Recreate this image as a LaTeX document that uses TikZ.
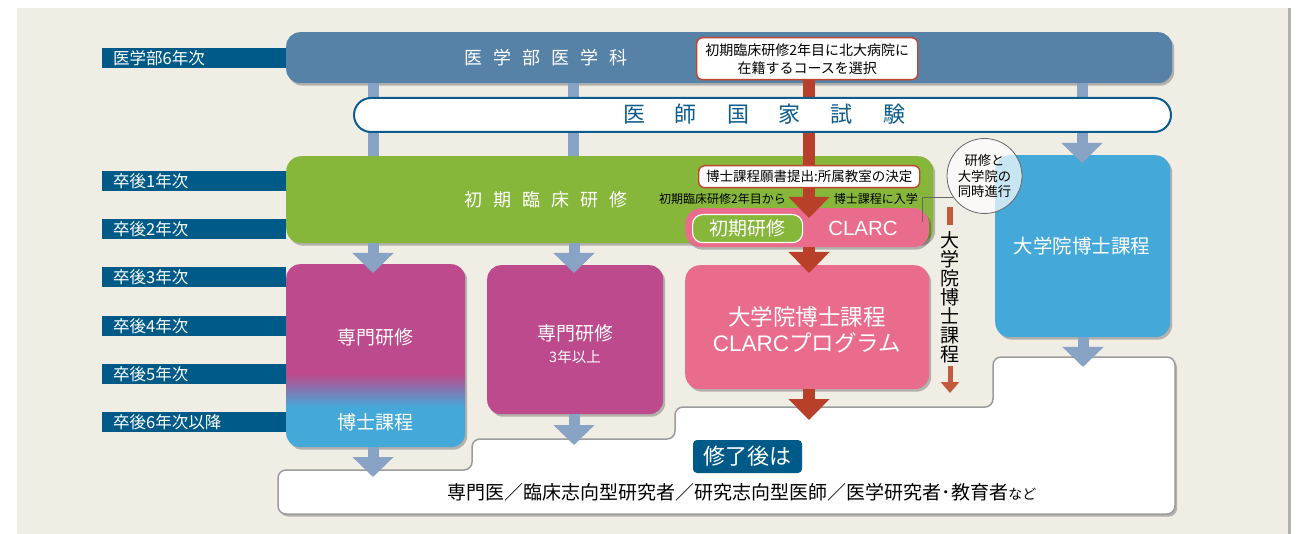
\documentclass[tikz,border=0pt]{standalone}
\usepackage{fontspec}
\setmainfont{Noto Sans CJK JP}
\newfontfamily\latf{Liberation Sans}
\usetikzlibrary{arrows.meta,shadows}
\definecolor{paperC}{HTML}{F0EDE5}
\definecolor{barC}{HTML}{005A87}
\definecolor{topC}{HTML}{5782A8}
\definecolor{examC}{HTML}{0B5B8C}
\definecolor{stemC}{HTML}{88A3C3}
\definecolor{redC}{HTML}{B8402A}
\definecolor{callC}{HTML}{C1452E}
\definecolor{greenC}{HTML}{86B73B}
\definecolor{magC}{HTML}{BC4A8C}
\definecolor{pinkC}{HTML}{E96C8D}
\definecolor{skyC}{HTML}{44A8D9}
\definecolor{markC}{HTML}{C35A3B}
\definecolor{grayC}{HTML}{9C9C9C}
\pgfdeclareverticalshading{magblue}{100bp}{color(0bp)=(skyC); color(36bp)=(skyC); color(45bp)=(magC); color(100bp)=(magC)}
\newcommand\fsz[2]{\fontsize{#1}{#2}\selectfont}
\begin{document}
\begin{tikzpicture}[x=1pt,y=-1pt,
  lbl/.style={fill=barC, text=white, font=\fsz{16.5}{20}, minimum width=184pt, minimum height=20pt,
    inner xsep=11pt, inner ysep=0pt, text width=162pt, align=left, anchor=north west},
  shad/.style={drop shadow={shadow xshift=2pt, shadow yshift=-2.5pt, opacity=.25, fill=black}},
  box/.style={shad, rounded corners=14pt, anchor=north west, inner sep=0pt},
  wtxt/.style={text=white, inner sep=0pt},
  stem/.style={draw=stemC, line width=11pt},
  barrow/.style={draw=stemC, line width=11pt, -{Triangle[width=40pt,length=20pt]}},
  rstem/.style={draw=redC, line width=12pt},
  rarrow/.style={draw=redC, line width=12pt, -{Triangle[width=40pt,length=21pt]}},
  callout/.style={draw=callC, line width=1.4pt, fill=white, rounded corners=6pt, inner sep=0pt, anchor=north west}
]
\useasboundingbox (0,0) rectangle (1303,534);
\fill[white] (0,0) rectangle (1303,534);
\fill[paperC, drop shadow={shadow xshift=3pt, shadow yshift=0pt, opacity=.3, fill=black}] (17,8) rectangle (1288,545);

% year labels
\node[lbl] (y0) at (102,48) {医学部6年次};
\node[lbl] (y1) at (102,171) {卒後1年次};
\node[lbl] (y2) at (102,219) {卒後2年次};
\node[lbl] (y3) at (102,267) {卒後3年次};
\node[lbl] (y4) at (102,316) {卒後4年次};
\node[lbl] (y5) at (102,364) {卒後5年次};
\node[lbl] (y6) at (102,412) {卒後6年次以降};

% main boxes
\node[box, fill=topC, minimum width=886pt, minimum height=51pt] (top) at (286,32) {};
\node[box, fill=greenC, rounded corners=15pt, minimum width=647pt, minimum height=87pt] (green) at (286,156) {};
\node[box, fill=skyC, rounded corners=15pt, minimum width=175pt, minimum height=182pt] (sky) at (995,155) {};
\node[box, shading=magblue, minimum width=179pt, minimum height=183pt] (pk1) at (286,264) {};
\node[box, fill=magC, minimum width=176pt, minimum height=149pt] (pk2) at (487,265) {};
\node[box, fill=pinkC, rounded corners=15pt, minimum width=244pt, minimum height=124pt] (big) at (685,265) {};
\node[box, fill=pinkC, rounded corners=16pt, minimum width=244pt, minimum height=39pt] (clarc) at (685,208) {};
\node[draw=white, line width=1.2pt, fill=greenC, rounded corners=10pt, minimum width=110pt, minimum height=28pt, anchor=north west, inner sep=0pt] (shoki) at (692,214) {};

% outcome box
\path[shad, draw=grayC, line width=1.5pt, fill=white, rounded corners=8pt]
  (700,514) -- (278,514) -- (278,470) -- (472,470) -- (472,439) -- (675,439) -- (675,407)
  -- (993,407) -- (993,357) -- (1175,357) -- (1175,514) -- cycle;

% column coordinates / arrow tips
\coordinate (c1) at (373,0);
\coordinate (c2) at (573,0);
\coordinate (c3) at (809,0);
\coordinate (c4) at (1082,0);
\coordinate (t1) at (373,273);
\coordinate (t2) at (574,273);
\coordinate (t4) at (1082,163);
\coordinate (u1) at (373,477);
\coordinate (u2) at (574,445);
\coordinate (u4) at (1083,367);
\coordinate (r1) at (809,218);
\coordinate (r2) at (809,273);
\coordinate (r3) at (809,420);

% blue connectors
\draw[stem] (top.south -| c1) -- (green.north -| c1);
\draw[stem] (top.south -| c2) -- (green.north -| c2);
\draw[stem] (top.south -| c4) -- (sky.north -| c4);
\draw[barrow] (green.south -| t1) -- (t1);
\draw[barrow] (green.south -| t2) -- (t2);
\draw[barrow] ([yshift=-14pt]top.south -| t4) -- (t4);
\draw[barrow] (pk1.south -| u1) -- (u1);
\draw[barrow] (pk2.south -| u2) -- (u2);
\draw[barrow] (sky.south -| u4) -- (u4);

% red connectors
\node[callout, minimum width=221pt, minimum height=42pt] (call1) at (696,37) {};
\draw[rstem] (call1.south -| c3) -- ([yshift=-14pt]top.south -| c3);
\draw[rarrow] ([yshift=-50pt]top.south -| r1) -- (r1);
\draw[rarrow] (clarc.south -| r2) -- (r2);
\draw[rarrow] (big.south -| r3) -- (r3);

% exam box
\node[draw=examC, line width=2pt, fill=white, rounded corners=17pt, minimum width=817pt, minimum height=34pt, anchor=north west, inner sep=0pt] (exam) at (353,97) {};
\node[text=examC, inner sep=0pt, font=\fsz{22}{26}] (examt) at (764,114) {医\kern30pt 師\kern30pt 国\kern30pt 家\kern30pt 試\kern30pt 験};

% callouts and texts
\node[callout, draw=none, fill=none, minimum width=221pt, minimum height=42pt, font=\fsz{14}{18}, align=center, anchor=center] (call1t) at (call1.center) {初期臨床研修2年目に北大病院に\\在籍するコースを選択};
\node[callout, minimum width=221pt, minimum height=22pt, font=\fsz{13.5}{16}] (call2) at (698,165) {};
\node[font=\fsz{13.5}{16}, inner sep=0pt] (call2t) at (call2.center) {博士課程願書提出:所属教室の決定};
\node[font=\fsz{12}{14}, inner sep=0pt, anchor=east] (fromt) at (786,199) {初期臨床研修2年目から};
\node[font=\fsz{12}{14}, inner sep=0pt, anchor=east] (entt) at (918,199) {博士課程に入学};

\node[wtxt, font=\fsz{18}{22}] (topt) at (546,58) {医\kern11pt 学\kern11pt 部\kern11pt 医\kern11pt 学\kern11pt 科};
\node[wtxt, font=\fsz{18}{22}] (greent) at (546,200) {初\kern11pt 期\kern11pt 臨\kern11pt 床\kern11pt 研\kern11pt 修};
\node[wtxt, font=\fsz{19}{22}] at (shoki.center) {初期研修};
\node[wtxt, font=\latf\fsz{20.5}{24}] (clarct) at (863,228) {CLARC};
\node[wtxt, font=\fsz{19.5}{24}] (skyt) at (1082,246) {大学院博士課程};
\node[wtxt, font=\fsz{19}{22}] (pk1a) at (375,337) {専門研修};
\node[wtxt, font=\fsz{19}{22}] (pk1b) at (375,422) {博士課程};
\node[wtxt, font=\fsz{19}{22}] (pk2a) at (575,333) {専門研修};
\node[wtxt, font=\fsz{14.5}{18}] (pk2b) at (575,357) {3年以上};
\node[wtxt, font=\fsz{22.5}{26}] (biga) at (807,317) {大学院博士課程};
\node[wtxt, font=\fsz{22.5}{26}] (bigb) at (807,343) {{\latf CLARC}プログラム};

% concurrent circle
\node[circle, draw=gray!80!black, line width=0.8pt, fill=white, fill opacity=0.7, text opacity=1, minimum size=75pt, inner sep=0pt, align=center, font=\fsz{13.3}{15.5}] (circ) at (984.5,176) {研修と\\大学院の\\同時進行};
\coordinate (lk) at (922,222);
\draw[gray!80!black, line width=0.8pt] (lk) |- (circ.214);

% vertical course marker
\node[fill=markC, minimum width=6pt, minimum height=18pt, inner sep=0pt, anchor=north] (mark) at (950,207) {};
\node[align=center, inner sep=0pt, font=\fsz{19}{19}] (vt) at (950,297) {大\\学\\院\\博\\士\\課\\程};
\coordinate (vend) at (950,393);
\draw[draw=markC, line width=5pt, -{Triangle[width=18pt,length=11pt]}] ([yshift=-3pt]vt.south) -- (vend);

% outcome
\node[fill=barC, rounded corners=4pt, minimum width=109pt, minimum height=33pt, inner sep=0pt, text=white, font=\fsz{22}{26}] (after) at (747.5,456.5) {修了後は};
\node[inner sep=0pt, font=\fsz{19}{22}] (outc) at (742,492) {専門医／臨床志向型研究者／研究志向型医師／医学研究者･教育者{\fsz{14}{16}など}};
\end{tikzpicture}
\end{document}
